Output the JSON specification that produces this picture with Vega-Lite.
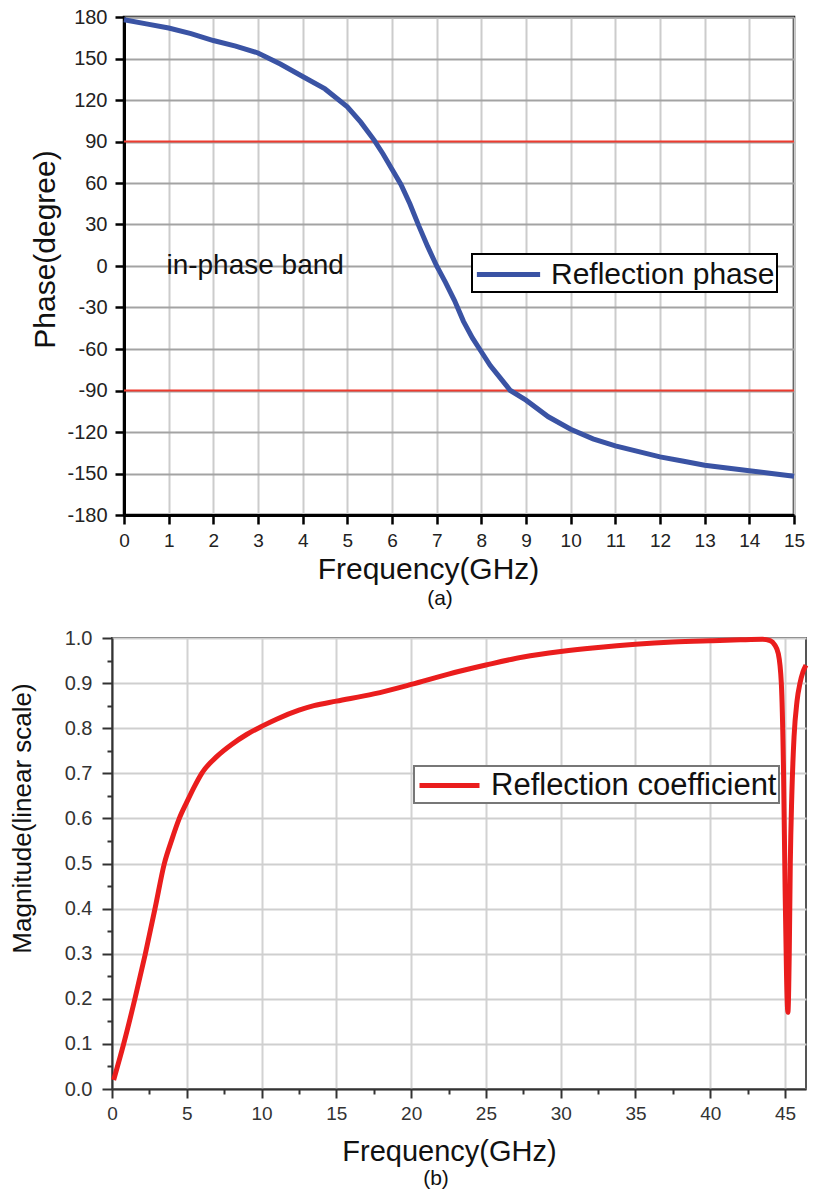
{
  "$schema": "https://vega.github.io/schema/vega-lite/v6.json",
  "background": "white",
  "padding": {"left": 8, "top": 5, "right": 0, "bottom": 0},
  "spacing": 123,
  "bounds": "flush",
  "center": true,
  "resolve": {"scale": {"color": "independent"}, "legend": {"color": "independent"}},
  "config": {
    "font": "Liberation Sans",
    "view": {"stroke": null},
    "axis": {"labelFont": "Liberation Sans", "titleFont": "Liberation Sans", "labelOverlap": false, "labelFlush": false, "titleFontWeight": "normal"},
    "title": {"font": "Liberation Sans", "fontWeight": "normal"},
    "legend": {"labelFont": "Liberation Sans", "strokeWidth": 2}
  },
  "vconcat": [
    {
      "width": 670, "height": 498,
      "view": {"stroke": "black", "strokeWidth": 2.5},
      "title": {"text": "(a)", "orient": "bottom", "fontSize": 21, "color": "#111", "dx": -19, "offset": 4},
      "layer": [
        {
          "data": {"values": [{"y": 90}, {"y": -90}]},
          "mark": {"type": "rule", "color": "#ee3b2f", "strokeWidth": 2},
          "encoding": {"y": {"field": "y", "type": "quantitative", "scale": {"domain": [-180, 180], "nice": false}}}
        },
        {
          "data": {"values": [
            {"f": 0, "p": 178}, {"f": 0.5, "p": 175}, {"f": 1, "p": 172}, {"f": 1.5, "p": 168}, {"f": 2, "p": 163},
            {"f": 2.5, "p": 159}, {"f": 3, "p": 154}, {"f": 3.5, "p": 146}, {"f": 4, "p": 137}, {"f": 4.5, "p": 128},
            {"f": 5, "p": 115}, {"f": 5.3, "p": 104}, {"f": 5.6, "p": 91}, {"f": 5.8, "p": 81}, {"f": 6, "p": 70},
            {"f": 6.2, "p": 59}, {"f": 6.4, "p": 45}, {"f": 6.6, "p": 29}, {"f": 6.8, "p": 14}, {"f": 7, "p": 0},
            {"f": 7.2, "p": -12}, {"f": 7.4, "p": -25}, {"f": 7.6, "p": -40}, {"f": 7.8, "p": -52}, {"f": 8, "p": -62},
            {"f": 8.2, "p": -72}, {"f": 8.4, "p": -80}, {"f": 8.65, "p": -90}, {"f": 9, "p": -97}, {"f": 9.5, "p": -109},
            {"f": 10, "p": -118}, {"f": 10.5, "p": -125}, {"f": 11, "p": -130}, {"f": 11.5, "p": -134}, {"f": 12, "p": -138},
            {"f": 12.5, "p": -141}, {"f": 13, "p": -144}, {"f": 13.5, "p": -146}, {"f": 14, "p": -148}, {"f": 14.5, "p": -150},
            {"f": 15, "p": -152}
          ]},
          "mark": {"type": "line", "strokeWidth": 5},
          "encoding": {
            "x": {
              "field": "f", "type": "quantitative",
              "scale": {"domain": [0, 15], "nice": false},
              "axis": {
                "values": [0,0.5,1,1.5,2,2.5,3,3.5,4,4.5,5,5.5,6,6.5,7,7.5,8,8.5,9,9.5,10,10.5,11,11.5,12,12.5,13,13.5,14,14.5,15],
                "labelExpr": "datum.value % 1 === 0 ? datum.label : ''",
                "tickSize": {"condition": {"test": "datum.value % 1 !== 0", "value": 5}, "value": 9},
                "gridOpacity": {"condition": {"test": "datum.value % 1 !== 0", "value": 0}, "value": 1},
                "grid": true, "gridColor": "#cccccc", "gridWidth": 2,
                "domainColor": "black", "domainWidth": 3, "tickColor": "black", "tickWidth": 2.5,
                "labelFontSize": 19, "labelColor": "#222", "labelPadding": 7,
                "title": "Frequency(GHz)", "titleFontSize": 30, "titleColor": "#111", "titlePadding": 4, "titleX": 304
              }
            },
            "y": {
              "field": "p", "type": "quantitative",
              "scale": {"domain": [-180, 180], "nice": false},
              "axis": {
                "values": [-180,-165,-150,-135,-120,-105,-90,-75,-60,-45,-30,-15,0,15,30,45,60,75,90,105,120,135,150,165,180],
                "labelExpr": "datum.value % 30 === 0 ? toString(datum.value) : ''",
                "tickSize": {"condition": {"test": "datum.value % 30 !== 0", "value": 5}, "value": 9},
                "gridOpacity": {"condition": {"test": "datum.value % 30 !== 0", "value": 0}, "value": 1},
                "grid": true, "gridColor": "#a3a3a3", "gridWidth": 2,
                "domainColor": "black", "domainWidth": 3, "tickColor": "black", "tickWidth": 2.5,
                "labelFontSize": 20, "labelColor": "#222", "labelPadding": 8,
                "title": "Phase(degree)", "titleFontSize": 30, "titleColor": "#111", "titlePadding": 6, "titleY": 232
              }
            },
            "color": {
              "datum": "Reflection phase", "type": "nominal",
              "scale": {"range": ["#3a53a4"]},
              "legend": {
                "orient": "none", "legendX": 348, "legendY": 237, "title": null,
                "strokeColor": "black", "fillColor": "white", "padding": 2,
                "symbolType": "M-2,0H2", "symbolStrokeWidth": 5, "symbolSize": 1000, "symbolOffset": 16,
                "labelFontSize": 30, "labelColor": "#111", "labelOffset": 24, "labelLimit": 400
              }
            }
          }
        },
        {
          "data": {"values": [{"f": 0.95, "p": 0, "t": "in-phase band"}]},
          "mark": {"type": "text", "align": "left", "baseline": "middle", "fontSize": 28, "color": "#111"},
          "encoding": {
            "x": {"field": "f", "type": "quantitative"},
            "y": {"field": "p", "type": "quantitative"},
            "text": {"field": "t"}
          }
        }
      ]
    },
    {
      "width": 694, "height": 451,
      "view": {"stroke": "#555", "strokeWidth": 2},
      "title": {"text": "(b)", "orient": "bottom", "fontSize": 21, "color": "#111", "dx": -23, "offset": 2},
      "data": {"values": [
        {"f": 0.11, "m": 0.02}, {"f": 0.78, "m": 0.1}, {"f": 1.56, "m": 0.204}, {"f": 2.23, "m": 0.3}, {"f": 2.9, "m": 0.404},
        {"f": 3.5, "m": 0.5}, {"f": 4, "m": 0.553}, {"f": 4.5, "m": 0.6}, {"f": 5, "m": 0.636}, {"f": 5.5, "m": 0.67},
        {"f": 6, "m": 0.7}, {"f": 7, "m": 0.737}, {"f": 8, "m": 0.764}, {"f": 9, "m": 0.786}, {"f": 10, "m": 0.804},
        {"f": 11, "m": 0.82}, {"f": 12.5, "m": 0.84}, {"f": 13.5, "m": 0.85}, {"f": 15, "m": 0.86}, {"f": 17.5, "m": 0.876},
        {"f": 20, "m": 0.897}, {"f": 22.5, "m": 0.92}, {"f": 25, "m": 0.94}, {"f": 27.5, "m": 0.958}, {"f": 30, "m": 0.97},
        {"f": 32.5, "m": 0.979}, {"f": 35, "m": 0.986}, {"f": 37.5, "m": 0.991}, {"f": 40, "m": 0.994}, {"f": 42, "m": 0.996},
        {"f": 43.5, "m": 0.997}, {"f": 44, "m": 0.994}, {"f": 44.3, "m": 0.985}, {"f": 44.55, "m": 0.965}, {"f": 44.75, "m": 0.9},
        {"f": 44.9, "m": 0.7}, {"f": 45, "m": 0.45}, {"f": 45.1, "m": 0.25}, {"f": 45.19, "m": 0.17}, {"f": 45.28, "m": 0.3},
        {"f": 45.35, "m": 0.5}, {"f": 45.45, "m": 0.65}, {"f": 45.6, "m": 0.78}, {"f": 45.8, "m": 0.86}, {"f": 46, "m": 0.9},
        {"f": 46.2, "m": 0.925}, {"f": 46.4, "m": 0.94}
      ]},
      "mark": {"type": "line", "strokeWidth": 5, "interpolate": "monotone"},
      "encoding": {
        "x": {
          "field": "f", "type": "quantitative",
          "scale": {"domain": [0, 46.4], "nice": false},
          "axis": {
            "values": [0,2.5,5,7.5,10,12.5,15,17.5,20,22.5,25,27.5,30,32.5,35,37.5,40,42.5,45],
            "labelExpr": "datum.value % 5 === 0 ? datum.label : ''",
            "tickSize": {"condition": {"test": "datum.value % 5 !== 0", "value": 5}, "value": 9},
            "gridOpacity": {"condition": {"test": "datum.value % 5 !== 0", "value": 0}, "value": 1},
            "grid": true, "gridColor": "#d2d2d2", "gridWidth": 2,
            "domainColor": "#333", "domainWidth": 2, "tickColor": "#333", "tickWidth": 2,
            "labelFontSize": 19, "labelColor": "#333", "labelPadding": 6,
            "title": "Frequency(GHz)", "titleFontSize": 29, "titleColor": "#111", "titlePadding": 14, "titleX": 337
          }
        },
        "y": {
          "field": "m", "type": "quantitative",
          "scale": {"domain": [0, 1], "nice": false},
          "axis": {
            "values": [0,0.05,0.1,0.15,0.2,0.25,0.3,0.35,0.4,0.45,0.5,0.55,0.6,0.65,0.7,0.75,0.8,0.85,0.9,0.95,1],
            "labelExpr": "round(datum.value*100) % 10 === 0 ? format(datum.value, '.1f') : ''",
            "tickSize": {"condition": {"test": "round(datum.value*100) % 10 !== 0", "value": 5}, "value": 10},
            "gridOpacity": {"condition": {"test": "round(datum.value*100) % 10 !== 0", "value": 0}, "value": 1},
            "grid": true, "gridColor": "#cfcfcf", "gridWidth": 2,
            "domainColor": "#333", "domainWidth": 2, "tickColor": "#333", "tickWidth": 2,
            "labelFontSize": 20, "labelColor": "#333", "labelPadding": 10,
            "title": "Magnitude(linear scale)", "titleFontSize": 26, "titleColor": "#111", "titlePadding": 29, "titleY": 180
          }
        },
        "color": {
          "datum": "Reflection coefficient", "type": "nominal",
          "scale": {"range": ["#ea1d1d"]},
          "legend": {
            "orient": "none", "legendX": 302, "legendY": 128, "title": null,
            "strokeColor": "#777", "fillColor": "white", "padding": 2,
            "symbolType": "M-2,0H2", "symbolStrokeWidth": 5, "symbolSize": 900, "symbolOffset": 16,
            "labelFontSize": 31, "labelColor": "#111", "labelOffset": 24, "labelLimit": 400
          }
        }
      }
    }
  ]
}
